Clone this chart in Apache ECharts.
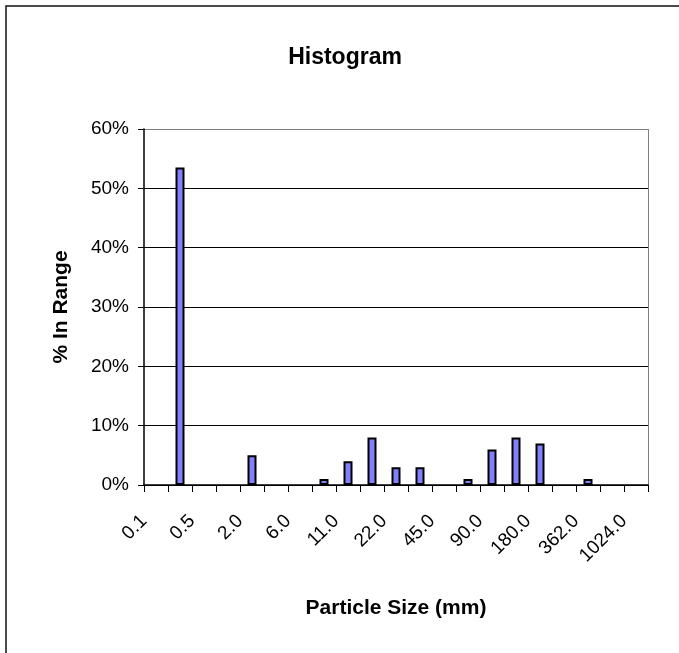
<!DOCTYPE html>
<html>
<head>
<meta charset="utf-8">
<script src="https://cdn.jsdelivr.net/npm/echarts@6/dist/echarts.min.js"></script>
<style>
  html, body { margin: 0; padding: 0; background: #fff; }
  #histChart { width: 679px; height: 653px; }
</style>
</head>
<body>
<div id="histChart"></div>
<script>
// Particle size classes (mm), every other one is labelled on the axis
const sizes = ["0.1", "0.25", "0.5", "1.0", "2.0", "4.0", "6.0", "8.0", "11.0", "16.0", "22.0",
  "32.0", "45.0", "64.0", "90.0", "128.0", "180.0", "256.0", "362.0", "512.0", "1024.0"];

// % of particles in each size range
const percentInRange = [0, 53.5, 0, 0, 5, 0, 0, 1, 4, 8, 3, 3, 0, 1, 6, 8, 7, 0, 1, 0, 0];

const yTicks = [0, 10, 20, 30, 40, 50, 60];

document.addEventListener("DOMContentLoaded", function () {
  initHistogram();
});

function initHistogram() {
  let chartDom = document.getElementById("histChart");
  if (!chartDom) return;

  let myChart = echarts.init(chartDom);
  const font = "'Liberation Sans', Arial, sans-serif";

  // grid lines black, the top one is the grey plot-area border
  const splitColors = yTicks.map(function (t, i) {
    return i === yTicks.length - 1 ? "#808080" : "#000";
  });

  // empty ranges get no outline, so nothing sits on the axis
  const barData = percentInRange.map(function (v) {
    return v === 0 ? { value: v, itemStyle: { borderWidth: 0 } } : v;
  });

  let option = {
    backgroundColor: "#fff",
    animation: false,
    title: {
      text: "Histogram",
      left: 345,
      top: 46,
      textAlign: "center",
      padding: 0,
      textStyle: {
        fontFamily: font,
        fontSize: 23,
        fontWeight: "bold",
        color: "#000",
      },
    },
    graphic: [
      {
        // outer chart frame (runs off the right and bottom edges)
        type: "rect",
        shape: { x: 6, y: 6, width: 720, height: 720 },
        style: { fill: null, stroke: "#111", lineWidth: 1.5 },
        silent: true,
      },
      {
        // right border of the plot area
        type: "line",
        shape: { x1: 648.5, y1: 129, x2: 648.5, y2: 485 },
        style: { stroke: "#808080", lineWidth: 1 },
        silent: true,
      },
    ],
    grid: {
      left: 144,
      right: 31,
      top: 129,
      bottom: 168,
      containLabel: false,
    },
    xAxis: {
      type: "category",
      data: sizes,
      boundaryGap: true,
      name: "Particle Size (mm)",
      nameLocation: "middle",
      nameGap: 113,
      nameTextStyle: {
        fontFamily: font,
        fontSize: 21,
        fontWeight: "bold",
        color: "#000",
      },
      axisLine: {
        lineStyle: { color: "#000", width: 1.5 },
      },
      axisTick: {
        show: true,
        interval: 0,
        length: 7,
        lineStyle: { color: "#000", width: 1 },
      },
      axisLabel: {
        interval: 1,
        rotate: 45,
        margin: 21,
        padding: [0, 17, 0, 0],
        fontFamily: font,
        fontSize: 19,
        color: "#000",
      },
      splitLine: { show: false },
    },
    yAxis: {
      type: "value",
      min: 0,
      max: 60,
      interval: 10,
      name: "% In Range",
      nameLocation: "middle",
      nameGap: 72,
      nameTextStyle: {
        fontFamily: font,
        fontSize: 21,
        fontWeight: "bold",
        color: "#000",
      },
      axisLine: {
        show: true,
        lineStyle: { color: "#000", width: 1.5 },
      },
      axisTick: {
        show: true,
        length: 6,
        lineStyle: { color: "#000", width: 1 },
      },
      axisLabel: {
        formatter: "{value}%",
        margin: 15,
        fontFamily: font,
        fontSize: 19,
        color: "#000",
      },
      splitLine: {
        lineStyle: { color: splitColors, width: 1 },
      },
    },
    series: [
      {
        type: "bar",
        data: barData,
        barWidth: 9,
        itemStyle: {
          color: "#8080ff",
          borderColor: "#000",
          borderWidth: 2,
        },
      },
    ],
  };

  myChart.setOption(option);

  window.addEventListener("resize", function () {
    myChart.resize();
  });
}
</script>
</body>
</html>
